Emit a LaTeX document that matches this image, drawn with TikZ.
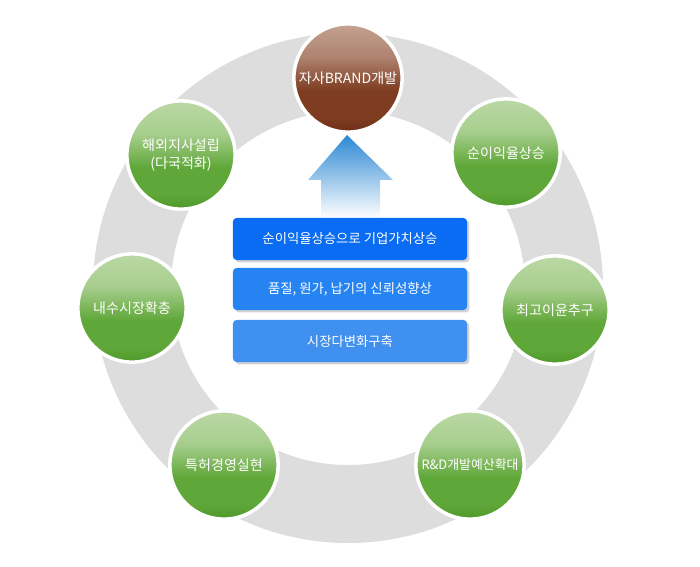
\documentclass[tikz,border=0pt]{standalone}
\usepackage{fontspec}
\setmainfont{Noto Sans CJK KR}
\usetikzlibrary{shadows}

\definecolor{ringgray}{RGB}{221,221,221}
\definecolor{glight}{RGB}{186,216,164}
\definecolor{gmid}{RGB}{95,167,56}
\definecolor{gdark}{RGB}{78,152,42}
\definecolor{blight}{RGB}{196,162,146}
\definecolor{bmid}{RGB}{126,60,32}
\definecolor{bdark}{RGB}{110,48,24}
\definecolor{arrowblue}{RGB}{43,136,212}
\definecolor{boxa}{RGB}{10,108,242}
\definecolor{boxb}{RGB}{38,131,242}
\definecolor{boxc}{RGB}{64,144,240}

\pgfdeclareverticalshading{greenball}{100bp}{color(0bp)=(gdark); color(25bp)=(gdark); color(32bp)=(gmid); color(44bp)=(gmid); color(60bp)=(glight!80!gmid); color(75bp)=(glight); color(100bp)=(glight)}
\pgfdeclareverticalshading{brownball}{100bp}{color(0bp)=(bdark); color(25bp)=(bdark); color(32bp)=(bmid); color(44bp)=(bmid); color(60bp)=(blight!70!bmid); color(75bp)=(blight); color(100bp)=(blight)}

\tikzset{
  ball/.style={circle, draw=white, line width=3pt, minimum size=3.25cm, inner sep=0pt,
    align=center, text=white, font=\fontsize{12pt}{15pt}\selectfont},
  greenball/.style={ball, shading=greenball},
  brownball/.style={ball, shading=brownball},
  goalbox/.style={rectangle, rounded corners=3pt, minimum width=7.02cm, minimum height=1.26cm,
    text=white, font=\fontsize{11.4pt}{13pt}\selectfont,
    drop shadow={opacity=0.35, shadow xshift=2pt, shadow yshift=-2pt}}
}

\begin{document}
\begin{tikzpicture}[x=0.03cm, y=-0.03cm]
			\useasboundingbox (0,0) rectangle (700,567);
			\coordinate (c) at (348,288);
			\fill[ringgray, even odd rule] (c) circle (255) (c) circle (177);
			
			\shade[top color=arrowblue, bottom color=white] (347,135) -- (393,180) -- (380,180) -- (380,218) -- (321,218) -- (321,180) -- (308,180) -- cycle;
			
			\node[brownball] (brand)  at  (348, 78){자사BRAND개발};
			\node[greenball] (profit)  at  (506,153){순이익율상승};
			\node[greenball] (maxgain)  at  (555,310){최고이윤추구};
			\node[greenball, font=\fontsize{11pt}{14pt}\selectfont] (rnd)  at  (470,465){R\&D개발예산확대};
			\node[greenball] (patent)  at  (224,465){특허경영실현};
			\node[greenball] (domestic)  at  (132,308){내수시장확충};
			\node[greenball] (overseas)  at  (181,155){해외지사설립\\(다국적화)};
			
			\node[goalbox, fill=boxa] (value)  at  (350,239){순이익율상승으로 기업가치상승};
			\node[goalbox, fill=boxb] (trust)  at  (350,289){품질, 원가, 납기의 신뢰성향상};
			\node[goalbox, fill=boxc] (diverse)  at  (350,341){시장다변화구축};
		\end{tikzpicture}
\end{document}
